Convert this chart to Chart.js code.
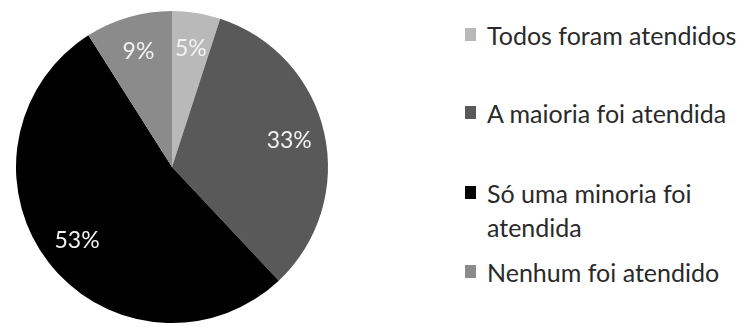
<!DOCTYPE html>
<html>
<head>
<meta charset="utf-8">
<script src="https://cdn.jsdelivr.net/npm/chart.js@4"></script>
<style>
  body { margin: 0; background: #fff; }
  #wrap { position: relative; width: 740px; height: 327px; overflow: hidden; }
  #pie { position: absolute; left: 0; top: 0; width: 344px; height: 327px; }
  #legend { position: absolute; left: 465px; top: 0; margin: 0; padding: 0; list-style: none;
            font-family: Lato, 'Open Sans', sans-serif; font-size: 25px; color: #2a2a2a; }
  #legend li { position: absolute; left: 0; width: 290px; line-height: 34px; padding-left: 22px; white-space: nowrap; }
  #legend li span.box { position: absolute; left: 0; top: 10px; width: 11px; height: 13px; }
  #legend li:nth-child(1) { top: 18px; }
  #legend li:nth-child(2) { top: 96px; }
  #legend li:nth-child(3) { top: 176px; }
  #legend li:nth-child(4) { top: 255px; }
</style>
</head>
<body>
<div id="wrap">
  <div id="pie"><canvas id="myChart"></canvas></div>
  <ul id="legend"></ul>
</div>
<script>
  // data
  const labels = ['Todos foram atendidos', 'A maioria foi atendida', 'Só uma minoria foi atendida', 'Nenhum foi atendido'];
  const legendLines = [['Todos foram atendidos'], ['A maioria foi atendida'], ['Só uma minoria foi', 'atendida'], ['Nenhum foi atendido']];
  const values = [5, 33, 53, 9];
  const colors = ['#b9b9b9', '#595959', '#000000', '#8b8b8b'];

  // percent labels drawn on top of each slice
  const pctLabels = {
      id: 'pctLabels',
      afterDatasetsDraw(chart) {
          const ctx = chart.ctx;
          const meta = chart.getDatasetMeta(0);
          const total = values.reduce((a, b) => a + b, 0);
          ctx.save();
          ctx.font = '23px Lato, "Open Sans", sans-serif';
          ctx.fillStyle = '#f2f2f2';
          ctx.textAlign = 'center';
          ctx.textBaseline = 'middle';
          meta.data.forEach((arc, i) => {
              const p = arc.getProps(['x', 'y', 'startAngle', 'endAngle', 'outerRadius']);
              const mid = (p.startAngle + p.endAngle) / 2;
              const r = p.outerRadius * 0.77;
              ctx.fillText(Math.round(values[i] / total * 100) + '%', p.x + Math.cos(mid) * r, p.y + Math.sin(mid) * r);
          });
          ctx.restore();
      }
  };

  const config = {
      type: 'pie',
      data: {
          labels: labels,
          datasets: [{
              data: values,
              backgroundColor: colors,
              borderWidth: 0
          }]
      },
      options: {
          responsive: true,
          maintainAspectRatio: false,
          animation: false,
          layout: { padding: { top: 11, bottom: 4, left: 16, right: 16 } },
          plugins: {
              legend: { display: false },
              tooltip: { enabled: false }
          }
      },
      plugins: [pctLabels]
  };

  var myChart = new Chart(document.getElementById('myChart'), config);

  // html legend
  const ul = document.getElementById('legend');
  legendLines.forEach((lines, i) => {
      const li = document.createElement('li');
      const box = document.createElement('span');
      box.className = 'box';
      box.style.background = colors[i];
      li.appendChild(box);
      li.appendChild(document.createTextNode(lines[0]));
      for (let k = 1; k < lines.length; k++) {
          li.appendChild(document.createElement('br'));
          li.appendChild(document.createTextNode(lines[k]));
      }
      ul.appendChild(li);
  });
</script>
</body>
</html>
